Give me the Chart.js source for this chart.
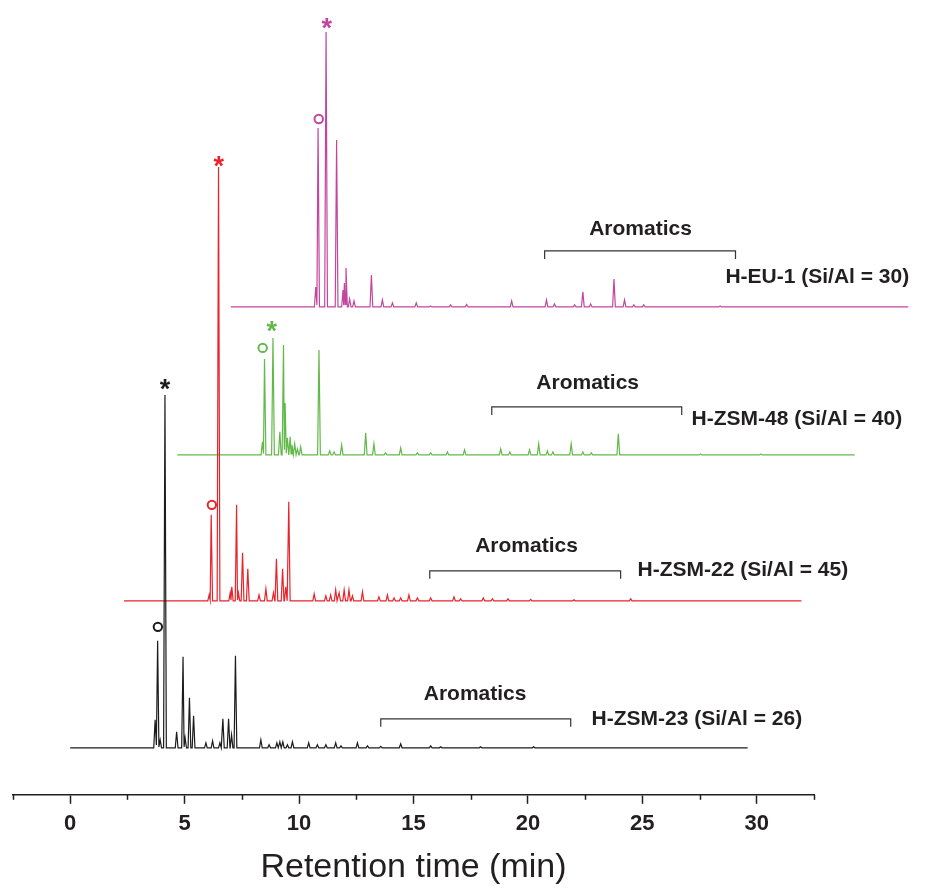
<!DOCTYPE html>
<html>
<head>
<meta charset="utf-8">
<script src="https://cdn.jsdelivr.net/npm/chart.js@4.4.1/dist/chart.umd.min.js"></script>
<style>
  html, body { margin: 0; padding: 0; background: #ffffff; }
  #wrap { width: 935px; height: 888px; }
</style>
</head>
<body>
<div id="wrap"><canvas id="c" width="935" height="888"></canvas></div>
<script>
// ---------- DATA (retention time in min, peak height in arbitrary units) ----------
const seriesNames = ['H-ZSM-23 (Si/Al = 26)', 'H-ZSM-22 (Si/Al = 45)', 'H-ZSM-48 (Si/Al = 40)', 'H-EU-1 (Si/Al = 30)'];

const zsm23Times   = [3.71,3.82,3.93,4.14,4.65,4.93,5.02,5.21,5.39,5.93,6.22,6.54,6.67,6.92,7.05,7.22,8.33,8.69,9.03,9.16,9.29,9.49,9.71,10.42,10.80,11.17,11.60,11.83,12.55,12.99,13.57,14.44,15.75,16.19,17.93,20.25];
const zsm23Heights = [28,107,8,353,16,91,10,50,32,5,7,5,29,29,13,92,8,3,5,6,6,3,6,5,3,3,5,2,5,2,1.5,4,2,1,1,1];

const zsm22Times   = [3.72,3.81,4.13,4.64,4.71,4.92,5.00,5.18,5.41,5.90,6.20,6.53,6.66,6.93,7.07,7.20,8.31,8.82,9.03,9.25,9.40,9.62,9.83,9.98,10.42,11.14,11.51,11.80,12.09,12.45,12.82,13.40,14.42,14.71,15.70,16.10,16.78,17.77,19.66,22.14];
const zsm22Heights = [6,86,434,8,14,96,8,48,32,6,12,8,42,32,14,99,7,5,6,11,8,11,11,5,9,4,6,3,3,6,3,3,4,2,3,2,2,1.5,1,2];

const zsm48Times   = [3.72,3.81,4.18,4.48,4.64,4.71,4.81,4.93,5.01,5.13,5.25,5.39,6.19,6.66,6.85,7.18,8.23,8.59,9.10,9.76,10.49,11.07,11.80,12.55,14.13,14.53,15.39,15.79,16.17,16.41,17.21,17.72,18.09,19.27,22.86,25.5];
const zsm48Heights = [13,96,117,23,110,52,17,18,10,11,6,8,105,4,3,10,22,11,2,7,2,2,3,5,6,3,5,11,4,3,11,3,2,21,1,1];

const eu1Times     = [3.71,3.81,4.16,4.62,4.90,4.96,5.03,5.19,5.38,6.14,6.62,7.06,8.10,8.73,9.60,10.30,12.27,13.79,14.14,15.02,15.38,15.72,16.74,17.20,17.61,18.04,21.38];
const eu1Heights   = [20,179,275,167,17,24,39,8,6,32,7,4,4,1,2,2.5,6,7,3,2,15,3,28,7,2,2,1];

const runStart = 0, runEnd = 29.6;          // recorded time window of each run
const xTickLabels = [0, 5, 10, 15, 20, 25, 30];

// ---------- LAYOUT / STYLE (offsets for the stacked display) ----------
const xShifts = [0, 2.35, 4.68, 7.02];
const yBases  = [47, 194, 340, 488];
const colors  = ['#1c1c1c', '#E8232B', '#62B94A', '#C2469E'];
const peakHalfWidth = 0.06;

// annotation anchors (own time frame, height above own baseline)
const starPos   = [[4.14,365],[4.14,441],[4.13,130],[4.19,285]];
const circlePos = [[3.83,121],[3.84,96],[3.73,107],[3.84,188]];
const bracketPos = [[13.57,21.87,29],[13.36,21.70,30],[13.74,22.04,48],[13.71,22.05,56]];
const aromLabelPos = [[17.69,54],[17.59,55],[17.93,72],[17.90,78]];
const nameLabelPos = [[22.78,29],[22.44,31],[22.47,36],[21.61,30]];

const allTimes = [zsm23Times, zsm22Times, zsm48Times, eu1Times];
const allHeights = [zsm23Heights, zsm22Heights, zsm48Heights, eu1Heights];

function buildTrace(times, heights, shift, base) {
  const pts = [{x: runStart + shift, y: base}];
  let prevT = null, prevH = null;
  for (let i = 0; i < times.length; i++) {
    const t = times[i], h = heights[i];
    const left = t - peakHalfWidth;
    if (prevT !== null && left < prevT + peakHalfWidth) {
      pts.pop();
      pts.push({x: (prevT + t) / 2 + shift, y: base + Math.min(prevH, h) * 0.1});
    } else {
      pts.push({x: left + shift, y: base});
    }
    pts.push({x: t + shift, y: base + h});
    pts.push({x: t + peakHalfWidth + shift, y: base});
    prevT = t; prevH = h;
  }
  pts.push({x: runEnd + shift, y: base});
  return pts;
}

const datasets = seriesNames.map((name, i) => ({
  label: name,
  data: buildTrace(allTimes[i], allHeights[i], xShifts[i], yBases[i]),
  borderColor: colors[i],
  borderWidth: 1.2,
  pointRadius: 0,
  tension: 0,
  fill: false,
  clip: false
}));

const FONT = "'Liberation Sans', Arial, Helvetica, sans-serif";
const TEXT = '#231F20';

const annotPlugin = {
  id: 'annot',
  afterDraw(chart) {
    const {ctx, scales: {x, y}, chartArea} = chart;
    ctx.save();
    // minor ticks
    ctx.strokeStyle = TEXT; ctx.lineWidth = 1.5;
    for (let v = -2.5; v <= 32.5 + 1e-9; v += 5) {
      const px = Math.round(x.getPixelForValue(v)) + 0.5;
      ctx.beginPath(); ctx.moveTo(px, chartArea.bottom); ctx.lineTo(px, chartArea.bottom + 5); ctx.stroke();
    }
    seriesNames.forEach((name, i) => {
      const X = t => x.getPixelForValue(t + xShifts[i]);
      const Y = h => y.getPixelForValue(h + yBases[i]);
      // bracket
      const b = bracketPos[i];
      ctx.strokeStyle = '#333'; ctx.lineWidth = 1.2;
      ctx.beginPath();
      ctx.moveTo(X(b[0]), Y(b[2]) + 8);
      ctx.lineTo(X(b[0]), Y(b[2]));
      ctx.lineTo(X(b[1]), Y(b[2]));
      ctx.lineTo(X(b[1]), Y(b[2]) + 8);
      ctx.stroke();
      // texts
      ctx.fillStyle = TEXT;
      ctx.font = 'bold 21px ' + FONT;
      ctx.textAlign = 'center'; ctx.textBaseline = 'middle';
      ctx.fillText('Aromatics', X(aromLabelPos[i][0]), Y(aromLabelPos[i][1]));
      ctx.textAlign = 'left';
      ctx.fillText(name, X(nameLabelPos[i][0]), Y(nameLabelPos[i][1]));
      // star
      ctx.fillStyle = colors[i];
      ctx.font = 'bold 27px ' + FONT;
      ctx.textAlign = 'center'; ctx.textBaseline = 'alphabetic';
      ctx.fillText('*', X(starPos[i][0]), Y(starPos[i][1]) + 0.57 * 27);
      // circle
      ctx.strokeStyle = colors[i]; ctx.lineWidth = 2;
      ctx.beginPath();
      ctx.arc(X(circlePos[i][0]), Y(circlePos[i][1]), 4.2, 0, Math.PI * 2);
      ctx.stroke();
    });
    ctx.restore();
  }
};

new Chart(document.getElementById('c'), {
  type: 'line',
  data: { datasets },
  options: {
    responsive: false,
    animation: false,
    devicePixelRatio: 1,
    layout: { padding: { left: 13, right: 121, top: 10, bottom: 0 } },
    plugins: { legend: { display: false }, tooltip: { enabled: false } },
    scales: {
      x: {
        type: 'linear', position: 'bottom', min: -2.5, max: 32.5,
        afterBuildTicks: (scale) => { scale.ticks = xTickLabels.map(v => ({value: v})); },
        grid: { display: true, drawOnChartArea: false, drawTicks: true, tickLength: 9, tickColor: TEXT, tickWidth: 1.5 },
        border: { display: true, color: TEXT, width: 1.5 },
        ticks: { color: TEXT, font: { family: FONT, size: 22, weight: 'bold' }, padding: 7, maxRotation: 0, autoSkip: false },
        title: { display: true, text: 'Retention time (min)', color: TEXT, font: { family: FONT, size: 34, weight: 'normal' }, padding: { top: 3, bottom: 0 } }
      },
      y: { display: false, min: 0, max: 785 }
    }
  },
  plugins: [annotPlugin]
});
</script>
</body>
</html>
